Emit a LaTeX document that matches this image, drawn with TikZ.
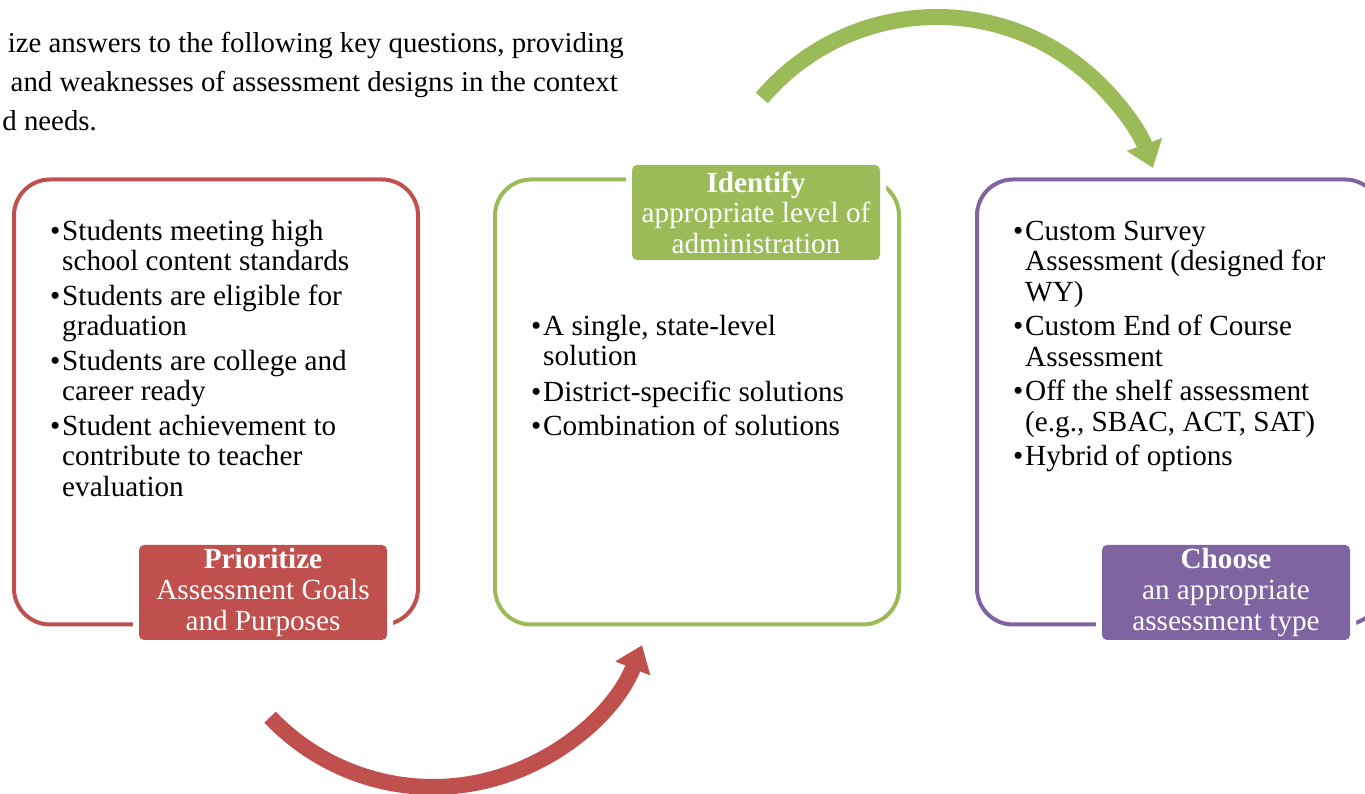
\documentclass[tikz,border=0pt]{standalone}
\usepackage{fontspec}
\setmainfont{Liberation Serif}
\usetikzlibrary{arrows.meta}
\definecolor{cred}{HTML}{C0504D}
\definecolor{cgreen}{HTML}{9BBB59}
\definecolor{cpurple}{HTML}{8064A2}
\newcommand{\bul}{\makebox[12pt][l]{•}}
\begin{document}
\begin{tikzpicture}[x=1pt,y=1pt,
  frame/.style={line width=4pt, rounded corners=36pt},
  lab/.style={fill=#1, text=white, rounded corners=5pt, minimum width=248pt,
    minimum height=95pt, inner sep=0pt, align=center,
    font=\fontsize{29.2}{30.6}\selectfont, preaction={draw=white, line width=12pt}},
  body/.style={inner sep=0pt, anchor=base west, font=\fontsize{29.2}{30.3}\selectfont},
  toptext/.style={inner sep=0pt, anchor=base east, font=\fontsize{28.8}{38.7}\selectfont},
  flow/.style={line width=16pt, -{Triangle[width=36pt,length=25pt]}}]
\useasboundingbox (0,0) rectangle (1365,794);
\clip (0,0) rectangle (1365,794);

% intro text (clipped at left)
\node[toptext] (t1) at (624,741) {ize answers to the following key questions, providing};
\node[toptext] (t2) at (618,702) {and weaknesses of assessment designs in the context};
\node[toptext] (t3) at (97,663) {d needs.};

% frames
\draw[frame, cred] (14,169.5) rectangle (418,614.5);
\draw[frame, cgreen] (495,169.5) rectangle (899,614.5);
\draw[frame, cpurple] (977,169.5) rectangle (1381,614.5);

% labels
\node[lab=cred] (l1) at (263,201.5) {\textbf{Prioritize}\\Assessment Goals\\and Purposes};
\node[lab=cgreen] (l2) at (756,581.5) {\textbf{Identify}\\appropriate level of\\administration};
\node[lab=cpurple] (l3) at (1226,201.5) {\textbf{Choose}\\an appropriate\\assessment type};

% bullet texts
\node[body] (b1) at (50,553.5) {\begin{tabular}[t]{@{}l@{}l@{}}
\bul & Students meeting high\\ & school content standards\\[4.4pt]
\bul & Students are eligible for\\ & graduation\\[4.4pt]
\bul & Students are college and\\ & career ready\\[4.4pt]
\bul & Student achievement to\\ & contribute to teacher\\ & evaluation
\end{tabular}};
\node[body] (b2) at (531,458.5) {\begin{tabular}[t]{@{}l@{}l@{}}
\bul & A single, state-level\\ & solution\\[5pt]
\bul & District-specific solutions\\[4.4pt]
\bul & Combination of solutions
\end{tabular}};
\node[body] (b3) at (1013,553.5) {\begin{tabular}[t]{@{}l@{}l@{}}
\bul & Custom Survey\\ & Assessment (designed for\\ & WY)\\[4.4pt]
\bul & Custom End of Course\\ & Assessment\\[4.4pt]
\bul & Off the shelf assessment\\ & (e.g., SBAC, ACT, SAT)\\[4.4pt]
\bul & Hybrid of options
\end{tabular}};

% curved arrows
\coordinate (rc) at (433,232);
\coordinate (gc) at (937,547);
\draw[flow, cred] (rc) ++(223.6:225) arc[start angle=223.6, end angle=338.3, radius=225];
\draw[flow, cgreen] (gc) ++(139.6:230) arc[start angle=139.6, end angle=20.1, radius=230];
\end{tikzpicture}
\end{document}
